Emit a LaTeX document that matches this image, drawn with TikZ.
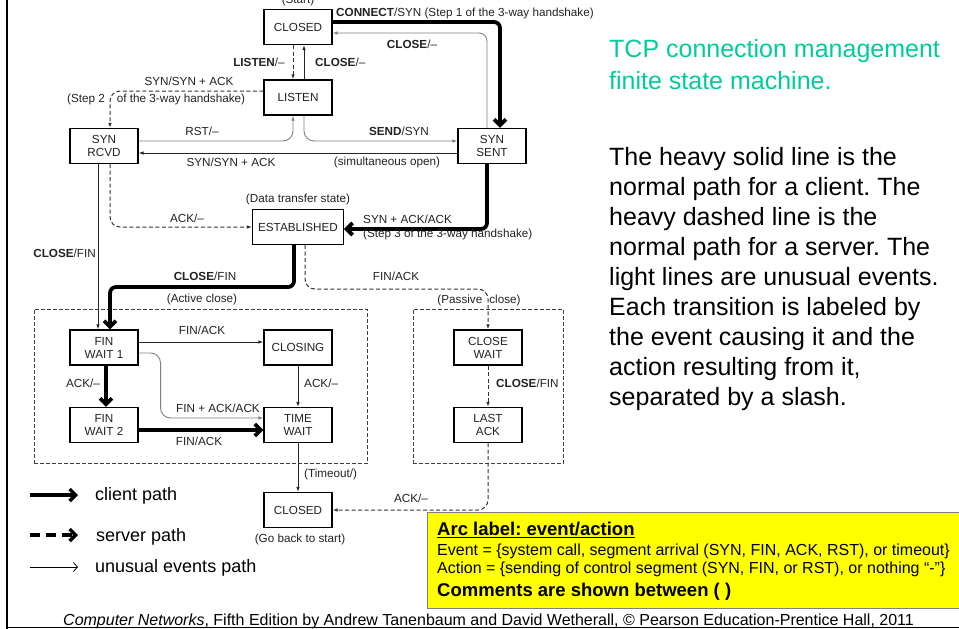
\documentclass[tikz,border=0pt]{standalone}
\usepackage{fontspec}
\setmainfont{Liberation Sans}
\usetikzlibrary{arrows.meta,positioning,fit}
\definecolor{Green}{HTML}{00CC99}
\definecolor{Ink}{HTML}{222222}
\definecolor{Yellow}{HTML}{FFFF00}
\newcommand{\lblsize}{\fontsize{11.7}{13}\selectfont}
\frenchspacing

\begin{document}
\begin{tikzpicture}[x=1pt,y=-1pt,
  state/.style={draw,line width=1.1pt,minimum width=68pt,minimum height=35pt,align=center,font=\lblsize,text=Ink,inner xsep=5.5pt},
  lbl/.style={font=\lblsize,text=Ink,inner sep=0pt},
  client/.style={line width=3.8pt,-{Straight Barb[length=6pt,width=12pt]}},
  server/.style={draw=black!80,line width=1pt,dash pattern=on 4pt off 2.5pt,-{Latex[length=5pt,width=3.5pt]}},
  unusual/.style={draw=black!85,line width=0.9pt,-{Latex[length=5pt,width=3.5pt]}},
  faint/.style={unusual,draw=black!50},
  group/.style={draw=black!75,line width=0.8pt,dash pattern=on 4pt off 2pt,inner ysep=20.5pt}]
  \useasboundingbox (0,0) rectangle (959,629);

  % states
  \node[state] (closedA) at (298,27) {CLOSED};
  \node[state] (listen) at (298,97.5) {LISTEN};
  \node[state] (synrcvd) at (104,146) {SYN\\RCVD};
  \node[state] (synsent) at (492,146) {SYN\\SENT};
  \node[state] (estab) at (298,227) {ESTABLISHED};
  \node[state] (finwait1) at (104,347.5) {FIN\\WAIT 1};
  \node[state] (closing) at (298,347.5) {CLOSING};
  \node[state] (finwait2) at (104,425) {FIN\\WAIT 2};
  \node[state] (timewait) at (298,425) {TIME\\WAIT};
  \node[state] (closewait) at (488,347.5) {CLOSE\\WAIT};
  \node[state] (lastack) at (488,425) {LAST\\ACK};
  \node[state] (closedB) at (298,510) {CLOSED};
  \node[group,fit=(finwait1)(timewait),inner xsep=35pt] (activebox) {};
  \node[group,fit=(closewait)(lastack),inner xsep=40.5pt] (passivebox) {};

  % transitions
  \draw[client,rounded corners=6pt] ([yshift=5pt]closedA.east) -| ([xshift=8pt]synsent.north);
  \draw[faint,rounded corners=8pt] ([xshift=-5pt]synsent.north) |- ([yshift=-6pt]closedA.east);
  \draw[server] ([xshift=-5pt]closedA.south) -- ([xshift=-5pt]listen.north);
  \draw[unusual] ([xshift=6pt]listen.north) -- ([xshift=6pt]closedA.south);
  \draw[server,rounded corners=10pt] ([yshift=6.5pt]listen.west) -| ([xshift=6pt]synrcvd.north);
  \draw[faint,rounded corners=10pt] ([yshift=5pt]synrcvd.east) -| ([xshift=-5pt]listen.south);
  \draw[faint,rounded corners=10pt] ([xshift=6pt]listen.south) |- ([yshift=5pt]synsent.west);
  \draw[unusual] ([yshift=-7pt]synsent.west) -- ([yshift=-7pt]synrcvd.east);
  \draw[server,rounded corners=10pt] ([xshift=6pt]synrcvd.south) |- (estab.west);
  \draw[unusual] ([xshift=-6pt]synrcvd.south) -- ([xshift=-6pt]finwait1.north);
  \draw[client,rounded corners=6pt] ([xshift=-5pt]synsent.south) |- ([yshift=-2pt]estab.east);
  \draw[client,rounded corners=6pt] ([xshift=-4pt]estab.south) -- ++(0,42) -| ([xshift=6pt]finwait1.north);
  \draw[server,rounded corners=10pt] ([xshift=7pt]estab.south) -- ++(0,44) -| (closewait.north);
  \draw[unusual] ([yshift=5.5pt]finwait1.east) -- ([yshift=5.5pt]closing.west);
  \draw[faint,rounded corners=10pt] ([yshift=-5.5pt]finwait1.east) -- ++(22,0) |- ([yshift=7pt]timewait.west);
  \draw[client] ([xshift=2pt]finwait1.south) -- ([xshift=2pt]finwait2.north);
  \draw[client] ([yshift=-5pt]finwait2.east) -- ([yshift=-5pt]timewait.west);
  \draw[unusual] (closing) -- (timewait);
  \draw[unusual] (timewait) -- (closedB);
  \draw[server] (closewait) -- (lastack);
  \draw[server,rounded corners=10pt] (lastack.south) |- (closedB.east);

  % labels
  \node[lbl,anchor=base] (startlbl) at (298,4) {(Start)};
  \node[lbl,anchor=base west] (connectlbl) at (336,16.5) {\textbf{CONNECT}/SYN (Step 1 of the 3-way handshake)};
  \node[lbl,anchor=base] (closelbl1) at (412,48) {\textbf{CLOSE}/–};
  \node[lbl,anchor=base] (listenlbl) at (259,66) {\textbf{LISTEN}/–};
  \node[lbl,anchor=base west] (closelbl2) at (315,66) {\textbf{CLOSE}/–};
  \node[lbl,anchor=base] (synacklbl1) at (189,85) {SYN/SYN + ACK};
  \node[lbl,anchor=base west] (step2lbl) at (67,102) {(Step 2\hspace{12pt}of the 3-way handshake)};
  \node[lbl,anchor=base] (rstlbl) at (202,135) {RST/–};
  \node[lbl,anchor=base] (sendlbl) at (399,135) {\textbf{SEND}/SYN};
  \node[lbl,anchor=base] (synacklbl2) at (231,166) {SYN/SYN + ACK};
  \node[lbl,anchor=base] (simullbl) at (387,165) {(simultaneous open)};
  \node[lbl,anchor=base] (datalbl) at (298,202) {(Data transfer state)};
  \node[lbl,anchor=base] (acklbl1) at (187,222) {ACK/–};
  \node[lbl,anchor=base east] (closefinlbl1) at (96,257) {\textbf{CLOSE}/FIN};
  \node[lbl,anchor=base west] (synacklbl3) at (363,223) {SYN + ACK/ACK};
  \node[lbl,anchor=base west] (step3lbl) at (363,237) {(Step 3 of the 3-way handshake)};
  \node[lbl,anchor=base] (closefinlbl2) at (205,280) {\textbf{CLOSE}/FIN};
  \node[lbl,anchor=base] (activelbl) at (202,302) {(Active close)};
  \node[lbl,anchor=base] (finacklbl1) at (396,280) {FIN/ACK};
  \node[lbl,anchor=base] (passivelbl) at (479,303) {(Passive\hspace{7pt}close)};
  \node[lbl,anchor=base] (finacklbl2) at (202,334) {FIN/ACK};
  \node[lbl,anchor=base] (acklbl2) at (83,387) {ACK/–};
  \node[lbl,anchor=base] (finackacklbl) at (218,412) {FIN + ACK/ACK};
  \node[lbl,anchor=base] (finacklbl3) at (199,445) {FIN/ACK};
  \node[lbl,anchor=base west] (acklbl3) at (304,387) {ACK/–};
  \node[lbl,anchor=base west] (closefinlbl3) at (496,387) {\textbf{CLOSE}/FIN};
  \node[lbl,anchor=base west] (timeoutlbl) at (304,477) {(Timeout/)};
  \node[lbl,anchor=base] (acklbl4) at (411,502) {ACK/–};
  \node[lbl,anchor=base] (backlbl) at (300,542) {(Go back to start)};

  % key
  \coordinate (ck1) at (30,495); \coordinate (ck2) at (78,495);
  \coordinate (sk1) at (30,535); \coordinate (sk2) at (78,535);
  \coordinate (uk1) at (30,567); \coordinate (uk2) at (78,567);
  \draw[line width=3.5pt,-{Straight Barb[length=6pt,width=12pt]}] (ck1) -- (ck2);
  \draw[line width=3.5pt,dash pattern=on 10pt off 6pt,-{Straight Barb[length=6pt,width=12pt]}] (sk1) -- (sk2);
  \draw[line width=0.8pt,-{Straight Barb[length=4pt,width=9pt]}] (uk1) -- (uk2);
  \node[anchor=base west,inner sep=0pt,font=\fontsize{18}{20}\selectfont] (clientkey) at (95,500) {client path};
  \node[anchor=base west,inner sep=0pt,font=\fontsize{18}{20}\selectfont] (serverkey) at (96,541) {server path};
  \node[anchor=base west,inner sep=0pt,font=\fontsize{18}{20}\selectfont] (unusualkey) at (95,572) {unusual events path};

  % notes on the right (base = last line)
  \node[anchor=base west,inner sep=0pt,align=left,text=Green,font=\fontsize{25}{32}\selectfont] (title) at (609,89)
    {TCP connection management\\finite state machine.};
  \node[anchor=base west,inner sep=0pt,align=left,font=\fontsize{25}{30}\selectfont] (notes) at (609,405)
    {The heavy solid line is the\\normal path for a client. The\\heavy dashed line is the\\normal path for a server. The\\light lines are unusual events.\\Each transition is labeled by\\the event causing it and the\\action resulting from it,\\separated by a slash.};

  % arc label box
  \node[draw=black!50,line width=1.2pt,fill=Yellow,anchor=north west,minimum width=545pt,minimum height=96pt] (arcbox) at (427,512) {};
  \node[anchor=base west,inner sep=0pt,font=\fontsize{18.5}{20}\selectfont\bfseries] (archead) at (437,535) {\underline{Arc label: event/action}};
  \node[anchor=base west,inner sep=0pt,font=\fontsize{16}{17}\selectfont] (eventline) at (437,555) {Event = \{system call, segment arrival (SYN, FIN, ACK, RST), or timeout\}};
  \node[anchor=base west,inner sep=0pt,font=\fontsize{16}{17}\selectfont] (actionline) at (437,573) {Action = \{sending of control segment (SYN, FIN, or RST), or nothing “-”\}};
  \node[anchor=base west,inner sep=0pt,font=\fontsize{18.5}{20}\selectfont\bfseries] (commentline) at (437,596) {Comments are shown between ( )};

  % frame and source
  \draw[line width=2.5pt] (7,0) -- (7,629);
  \draw[line width=1.5pt] (6,627.5) -- (959,627.5);
  \node[anchor=base west,inner sep=0pt,font=\fontsize{16}{17}\selectfont] (source) at (63,625)
    {\textit{Computer Networks}, Fifth Edition by Andrew Tanenbaum and David Wetherall, © Pearson Education-Prentice Hall, 2011};
\end{tikzpicture}
\end{document}
